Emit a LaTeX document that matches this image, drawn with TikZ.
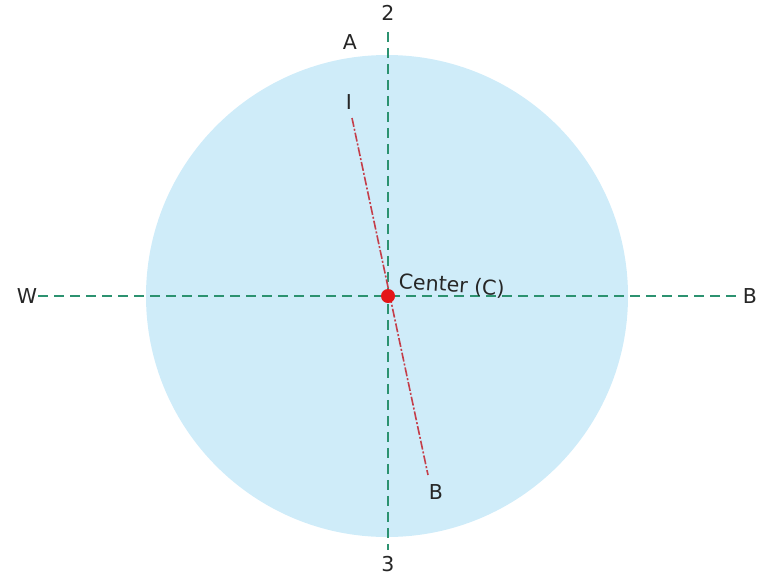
\documentclass[tikz,border=0pt]{standalone}
\usepackage{fontspec}
\setmainfont{DejaVu Sans}
\definecolor{skyfill}{RGB}{207,236,249}
\definecolor{axisgreen}{RGB}{44,146,112}
\definecolor{dotred}{RGB}{228,22,24}
\definecolor{linered}{RGB}{196,62,74}
\begin{document}
\begin{tikzpicture}[x=1pt,y=-1pt,line join=round,font=\fontsize{20.5}{24}\selectfont,
  axis/.style={draw=axisgreen,line width=2.2pt,dash pattern=on 10pt off 6pt},
  tilt/.style={draw=linered,line width=1.6pt,dash pattern=on 9pt off 2pt on 2pt off 2pt},
  lbl/.style={inner sep=1pt,text=black!85}]
	\useasboundingbox (0,0) rectangle (768,576);
	\fill[skyfill] (387,296) circle (241);
	\coordinate (C) at (388,296);
	\foreach \p/\n/\t in {{388,13}/two/2,{388,564}/three/3,{27,296}/W/W,{750,296}/E/B,{350,42}/A/A,{349,102}/I/I,{436,492}/Bl/B}
		\node[lbl] (\n) at (\p) {\t};
	\coordinate (Itop) at (352,118);
	\coordinate (Bbot) at (428,475);
	\draw[axis,shorten >=5pt] (two.south)++(0,10) -- (three.north);
	\draw[axis] (W.east) -- (E.west);
	\draw[tilt] (Itop) -- (Bbot);
	\fill[dotred] (C) circle (7);
	\node[lbl,anchor=south west,rotate=-4] (cl) at (397,292) {Center (C)};
\end{tikzpicture}
\end{document}
